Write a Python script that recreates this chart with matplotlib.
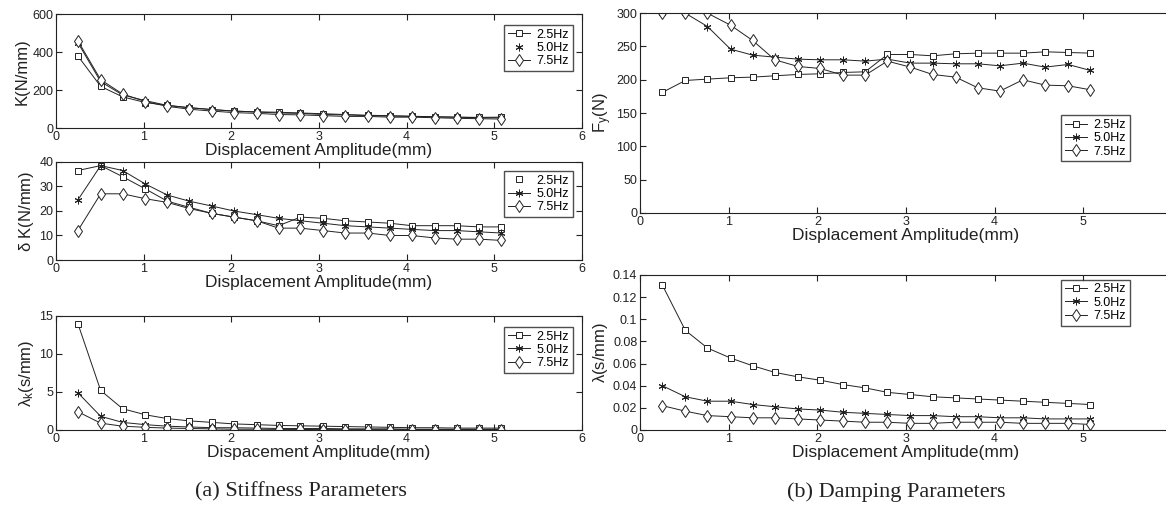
import numpy as np
import matplotlib.pyplot as plt
from matplotlib.ticker import FormatStrFormatter
from matplotlib.lines import Line2D

# displacement amplitudes (mm)
amp = [0.25, 0.51, 0.76, 1.02, 1.27, 1.52, 1.78, 2.03, 2.29, 2.54,
       2.79, 3.05, 3.30, 3.56, 3.81, 4.06, 4.32, 4.57, 4.83, 5.08]
freqs = ['2.5Hz', '5.0Hz', '7.5Hz']

K_25 = [380, 220, 165, 135, 120, 108, 98, 90, 86, 84, 80, 76, 72, 68, 66, 63, 60, 58, 57, 58]
K_50 = [450, 245, 175, 145, 120, 108, 98, 90, 85, 80, 78, 72, 70, 66, 64, 62, 60, 58, 55, 55]
K_75 = [460, 255, 180, 140, 115, 100, 90, 82, 78, 72, 70, 66, 62, 62, 58, 58, 55, 52, 50, 48]

dK_25 = [36.5, 38.5, 34, 29, 24, 21.5, 19, 17.5, 16, 14, 17.5, 17, 16, 15.5, 15, 14, 14, 14, 13.5, 13.5]
dK_50 = [24.5, 38.5, 36.5, 31, 26.5, 24, 22, 20, 18.5, 17, 16, 15, 14, 13.5, 13, 12.5, 12, 12, 11.5, 11]
dK_75 = [12, 27, 27, 25, 23.5, 21, 19, 17.5, 16, 13, 13, 12, 11, 11, 10, 10, 9, 8.5, 8.5, 8]

lk_25 = [14, 5.2, 2.8, 2.0, 1.5, 1.2, 1.0, 0.8, 0.7, 0.6, 0.55, 0.5, 0.45, 0.4, 0.35, 0.3, 0.3, 0.25, 0.25, 0.25]
lk_50 = [4.9, 1.8, 1.0, 0.7, 0.5, 0.4, 0.3, 0.3, 0.25, 0.2, 0.2, 0.2, 0.15, 0.15, 0.15, 0.1, 0.1, 0.1, 0.1, 0.1]
lk_75 = [2.4, 0.9, 0.5, 0.35, 0.25, 0.2, 0.15, 0.1, 0.1, 0.08, 0.07, 0.05, 0.05, 0.05, 0.05, 0.05, 0.05, 0.05, 0.05, 0.05]

Fy_25 = [181, 199, 201, 203, 204, 206, 208, 209, 211, 212, 238, 238, 236, 239, 240, 240, 240, 242, 241, 240]
Fy_50 = [300, 300, 280, 246, 237, 234, 231, 230, 230, 228, 231, 225, 225, 224, 224, 221, 225, 219, 223, 214]
Fy_75 = [300, 300, 300, 282, 259, 230, 220, 217, 207, 207, 228, 219, 208, 204, 188, 183, 200, 192, 191, 185]

lam_25 = [0.131, 0.090, 0.074, 0.065, 0.058, 0.052, 0.048, 0.045, 0.041, 0.038,
          0.034, 0.032, 0.030, 0.029, 0.028, 0.027, 0.026, 0.025, 0.024, 0.023]
lam_50 = [0.040, 0.030, 0.026, 0.026, 0.023, 0.021, 0.019, 0.018, 0.016, 0.015,
          0.014, 0.013, 0.013, 0.012, 0.012, 0.011, 0.011, 0.010, 0.010, 0.010]
lam_75 = [0.022, 0.017, 0.013, 0.012, 0.011, 0.011, 0.010, 0.009, 0.008, 0.007,
          0.007, 0.006, 0.006, 0.007, 0.007, 0.007, 0.006, 0.006, 0.006, 0.005]

plt.rcParams['font.family'] = ['Liberation Sans', 'DejaVu Sans']
plt.rcParams['mathtext.fontset'] = 'custom'
plt.rcParams['mathtext.rm'] = 'Liberation Sans'
plt.rcParams['mathtext.it'] = 'Liberation Sans'

INK = '#222222'
star = (6, 2, 0)
markers = ['s', star, 'd']
msz = [5, 5.5, 6]


def draw_panel(ax, ys, ylim, yticks, ylabel, xlabel, fmt=None, blank=None):
    for y, m, s in zip(ys, markers, msz):
        ax.plot(amp, y, color=INK, lw=0.7, marker=m, ms=s, mfc='white',
                mec=INK, mew=0.7)
    ax.set_xlim(0, 6)
    ax.set_ylim(*ylim)
    ax.set_xticks(range(7))
    ax.set_yticks(yticks)
    if fmt:
        ax.yaxis.set_major_formatter(FormatStrFormatter(fmt))
    ax.tick_params(direction='in', top=True, right=True, labelsize=9,
                   length=4, width=0.8, pad=2, colors=INK)
    for sp in ax.spines.values():
        sp.set_linewidth(0.8)
        sp.set_color(INK)
    ax.set_xlabel(xlabel, fontsize=12.5, labelpad=0, color=INK)
    ax.set_ylabel(ylabel, fontsize=12, labelpad=2, color=INK)
    handles = []
    for i, (lbl, m, s) in enumerate(zip(freqs, markers, msz)):
        ls = 'none' if blank == i else '-'
        handles.append(Line2D([], [], color=INK, lw=0.7, ls=ls, marker=m, ms=s,
                              mfc='white', mec=INK, mew=0.7, label=lbl))
    return handles


def add_legend(ax, handles, loc, anchor):
    ax.legend(handles=handles, loc=loc, fontsize=9, frameon=True, fancybox=False,
              edgecolor=INK, handlelength=1.8, handletextpad=0.5, borderpad=0.3,
              labelspacing=0.1, bbox_to_anchor=anchor)


fig = plt.figure(figsize=(11.66, 5.19), dpi=100)

lw_ax = 0.451
ax1 = fig.add_axes([0.048, 0.753, lw_ax, 0.2197])
ax2 = fig.add_axes([0.048, 0.499, lw_ax, 0.189])
ax3 = fig.add_axes([0.048, 0.1715, lw_ax, 0.2197])
ax4 = fig.add_axes([0.549, 0.5896, 0.456, 0.385])
ax5 = fig.add_axes([0.549, 0.1715, 0.456, 0.2987])

xl = 'Displacement Amplitude(mm)'
h = draw_panel(ax1, [K_25, K_50, K_75], (0, 600), range(0, 601, 200), 'K(N/mm)', xl, blank=1)
add_legend(ax1, h, 'upper right', (0.995, 0.96))

h = draw_panel(ax2, [dK_25, dK_50, dK_75], (0, 40), range(0, 41, 10), r'$\delta$ K(N/mm)', xl, blank=0)
add_legend(ax2, h, 'upper right', (0.995, 0.97))

h = draw_panel(ax3, [lk_25, lk_50, lk_75], (0, 15), range(0, 16, 5), r'$\lambda_{\rm k}$(s/mm)',
               'Dispacement Amplitude(mm)')
add_legend(ax3, h, 'upper right', (0.995, 0.96))

h = draw_panel(ax4, [Fy_25, Fy_50, Fy_75], (0, 300), range(0, 301, 50), r'F$_{\rm y}$(N)', xl)
ax4.set_xticks(range(6))
add_legend(ax4, h, 'upper left', (0.78, 0.52))

h = draw_panel(ax5, [lam_25, lam_50, lam_75], (0, 0.14), np.arange(0, 0.141, 0.02),
               r'$\lambda$(s/mm)', xl, fmt='%g')
ax5.set_xticks(range(6))
add_legend(ax5, h, 'upper left', (0.78, 1.01))

fig.text(0.258, 0.052, '(a) Stiffness Parameters', ha='center', va='center',
         fontsize=16, family=['Liberation Serif', 'DejaVu Serif'], color=INK)
fig.text(0.769, 0.052, '(b) Damping Parameters', ha='center', va='center',
         fontsize=16, family=['Liberation Serif', 'DejaVu Serif'], color=INK)

fig.savefig('out.png', dpi=100)
